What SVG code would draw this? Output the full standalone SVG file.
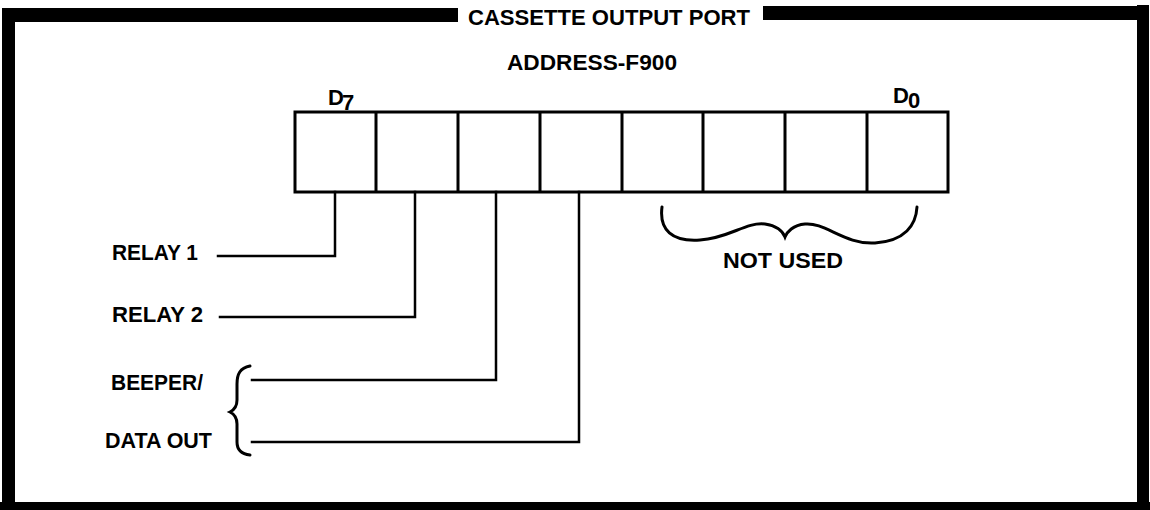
<svg xmlns="http://www.w3.org/2000/svg" width="1150" height="510" viewBox="0 0 1150 510">
<style>
.t{font-family:"Liberation Sans",Arial,sans-serif;font-weight:bold;font-size:22px;fill:#000}
.cell{fill:none;stroke:#000;stroke-width:3}
.ln{fill:none;stroke:#000;stroke-width:2.5;stroke-linecap:square}
.br{fill:none;stroke:#000;stroke-width:3;stroke-linecap:round}
</style>
<rect width="1150" height="510" fill="#fff"/>
<g id="frame">
<rect x="2" y="8" width="456" height="14" fill="#000"/>
<rect x="763" y="6" width="386" height="14" fill="#000"/>
<rect x="2" y="8" width="13" height="502" fill="#000"/>
<rect x="1137" y="5" width="12" height="505" fill="#000"/>
<rect x="0" y="502" width="1150" height="8" fill="#000"/>
<text class="t" x="468" y="25" font-size="23" textLength="282" lengthAdjust="spacingAndGlyphs">CASSETTE OUTPUT PORT</text>
</g>
<g id="address">
<text class="t" x="507" y="70" textLength="170" lengthAdjust="spacingAndGlyphs">ADDRESS-F900</text>
</g>
<g id="register">
<rect class="cell" x="295" y="112" width="653" height="80"/>
<path class="cell" d="M376,112V192M458,112V192M540,112V192M622,112V192M703,112V192M785,112V192M867,112V192"/>
<text class="t" x="328" y="105" font-size="21">D</text><text class="t" x="342" y="110" font-size="21">7</text>
<text class="t" x="893" y="103" font-size="21">D</text><text class="t" x="908" y="108" font-size="21">0</text>
</g>
<g id="relay1"><text class="t" x="112" y="260" textLength="86" lengthAdjust="spacingAndGlyphs">RELAY  1</text></g>
<g id="relay2"><text class="t" x="112" y="322" textLength="91" lengthAdjust="spacingAndGlyphs">RELAY  2</text></g>
<g id="beeper">
<text class="t" x="111" y="390" textLength="92" lengthAdjust="spacingAndGlyphs">BEEPER/</text>
<text class="t" x="105" y="448" textLength="107" lengthAdjust="spacingAndGlyphs">DATA OUT</text>
<path class="br" d="M250,366 C240,368 237,374 237,384 L237,400 C237,407 234,410 230,412 C234,414 237,417 237,424 L237,442 C237,450 241,454 250,455"/>
</g>
<g id="notused">
<path class="br" d="M662,207 C659,230 672,242 700,240 C730,238 745,222 765,224 C778,226 783,232 785,237 C787,232 793,225 805,224 C825,222 845,245 875,243 C905,241 916,225 917,207"/>
<text class="t" x="723" y="268" textLength="120" lengthAdjust="spacingAndGlyphs">NOT  USED</text>
</g>
<g id="connectors">
<path class="ln" d="M335,192V256H218"/>
<path class="ln" d="M415,192V317H220"/>
<path class="ln" d="M496,192V380H252"/>
<path class="ln" d="M579,192V442H252"/>
</g>
</svg>
